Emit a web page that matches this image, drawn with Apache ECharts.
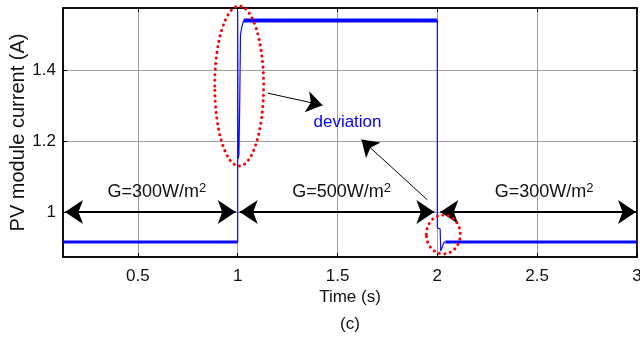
<!DOCTYPE html>
<html><head><meta charset="utf-8">
<script src="https://cdn.jsdelivr.net/npm/echarts@6/dist/echarts.min.js"></script>
<style>html,body{margin:0;padding:0;background:#fff}#c{width:640px;height:343px}</style>
</head><body><div id="c"></div>
<script>
// ---- data ----
var xTicks = [0.5, 1, 1.5, 2, 2.5, 3];
var yTicks = [1, 1.2, 1.4];
var xRange = [0.125, 3];
var yRange = [0.873, 1.575];
// steady-state segments (time s, current A)
var t300a = [0.125, 1.0];
var i300a = [0.915, 0.915];
var t500 = [1.03, 2.0];
var i500 = [1.54, 1.54];
var t300b = [2.04, 3.0];
var i300b = [0.915, 0.915];
// transients
var tStepUp = [1.0, 1.0, 1.002, 1.006, 1.010, 1.014, 1.020, 1.030];
var iStepUp = [0.915, 1.565, 1.15, 1.16, 1.30, 1.50, 1.52, 1.54];
var tStepDown = [2.0, 2.0, 2.014, 2.017, 2.022, 2.027, 2.034, 2.04];
var iStepDown = [1.54, 0.955, 0.952, 0.89, 0.888, 0.905, 0.915, 0.915];
// annotation texts
var regionLabels = ['G=300W/m', 'G=500W/m', 'G=300W/m'];
var regionLabelX = [0.595, 1.52, 2.535];
var regionSpans = [[0.135, 0.99], [1.01, 1.985], [2.015, 2.995]];

function zip(a, b) { return a.map(function (v, k) { return [v, b[k]]; }); }

var FONT = "'Liberation Sans',Arial,sans-serif";
var chart = echarts.init(document.getElementById('c'), null, {renderer: 'canvas'});

function axisCommon(ticks, showLabel) {
  return {
    axisLine: {show: true, onZero: false, lineStyle: {color: '#000', width: 1.5}},
    axisTick: {show: true, inside: true, length: 4, customValues: ticks, lineStyle: {color: '#000'}},
    axisLabel: {show: showLabel, customValues: ticks, color: '#111', fontSize: 17, fontFamily: FONT},
    splitLine: {show: false}
  };
}

var xMain = Object.assign({type: 'value', min: xRange[0], max: xRange[1], position: 'bottom',
  name: 'Time (s)', nameLocation: 'middle', nameGap: 32, nameMoveOverlap: false,
  nameTextStyle: {fontSize: 17, fontFamily: FONT, color: '#111'}}, axisCommon(xTicks, true));
xMain.axisLabel.margin = 11;
xMain.splitLine = {show: true, lineStyle: {color: '#a0a0a0', width: 1}};
var xTop = Object.assign({type: 'value', min: xRange[0], max: xRange[1], position: 'top'}, axisCommon(xTicks, false));

var yMain = Object.assign({type: 'value', min: yRange[0], max: yRange[1], position: 'left',
  name: 'PV module current (A)', nameLocation: 'middle', nameGap: 35, nameMoveOverlap: false,
  nameTextStyle: {fontSize: 20, fontFamily: FONT, color: '#111'}}, axisCommon(yTicks, true));
yMain.axisLabel.margin = 7;
yMain.splitLine = {show: true, lineStyle: {color: '#a0a0a0', width: 1}};
var yRight = Object.assign({type: 'value', min: yRange[0], max: yRange[1], position: 'right'}, axisCommon(yTicks, false));

function arrowLine(x0, y0, x1, y1, both, width, size) {
  return [
    {coord: [x0, y0], symbol: both ? 'arrow' : 'none', symbolSize: size, lineStyle: {color: '#000', width: width, type: 'solid'}},
    {coord: [x1, y1], symbol: 'arrow', symbolSize: size}
  ];
}

var markData = regionSpans.map(function (s) { return arrowLine(s[0], 1, s[1], 1, true, 2, 18); });
markData.push(arrowLine(1.15, 1.335, 1.425, 1.301, false, 1, 16));
markData.push(arrowLine(1.95, 1.034, 1.62, 1.204, false, 1, 16));

var blue = '#0a0aff';
var option = {
  animation: false,
  backgroundColor: '#fff',
  grid: {left: 63, right: 3, top: 8, bottom: 86, outerBoundsMode: 'none', containLabel: false,
    show: true, borderColor: '#000', borderWidth: 1.5},
  xAxis: [xMain, xTop],
  yAxis: [yMain, yRight],
  series: [
    {type: 'line', data: zip(t300a, i300a), showSymbol: false, lineStyle: {color: blue, width: 3}, silent: true,
      markLine: {silent: true, animation: false, label: {show: false}, symbol: ['none', 'arrow'],
        itemStyle: {color: '#000'}, data: markData}},
    {type: 'line', data: zip(t500, i500), showSymbol: false, lineStyle: {color: blue, width: 4}, silent: true},
    {type: 'line', data: zip(t300b, i300b), showSymbol: false, lineStyle: {color: blue, width: 3}, silent: true},
    {type: 'line', data: zip(tStepUp, iStepUp), showSymbol: false, lineStyle: {color: blue, width: 1.2}, silent: true},
    {type: 'line', data: zip(tStepDown, iStepDown), showSymbol: false, lineStyle: {color: blue, width: 1.2}, silent: true}
  ]
};
chart.setOption(option);

function px(x, y) { return chart.convertToPixel({gridIndex: 0}, [x, y]); }
function ellipse(cx, cy, rx, ry) {
  var c = px(cx, cy), e = px(cx + rx, cy + ry);
  return {type: 'ellipse', silent: true, z: 100,
    shape: {cx: c[0], cy: c[1], rx: Math.abs(e[0] - c[0]), ry: Math.abs(e[1] - c[1])},
    style: {fill: null, stroke: '#ff0000', lineWidth: 3, lineDash: [0.1, 5.5], lineCap: 'round'}};
}
var graphics = [ellipse(1.0075, 1.355, 0.1225, 0.2254), ellipse(2.03, 0.9366, 0.085, 0.055)];
regionLabels.forEach(function (t, k) {
  var p = px(regionLabelX[k], 1.055);
  graphics.push({type: 'text', silent: true, z: 100, x: p[0], y: p[1],
    style: {text: '{a|' + t + '}{s|2}', align: 'center', verticalAlign: 'middle',
      rich: {a: {fontSize: 18, fontFamily: FONT, fill: '#111'},
             s: {fontSize: 13, fontFamily: FONT, fill: '#111', padding: [0, 0, 9, 0]}}}});
});
var dp = px(1.55, 1.253);
graphics.push({type: 'text', silent: true, z: 100, x: dp[0], y: dp[1],
  style: {text: 'deviation', align: 'center', verticalAlign: 'middle', fontSize: 17, fontFamily: FONT, fill: '#0000ff'}});
var cp = px((xRange[0] + xRange[1]) / 2, yRange[0]);
graphics.push({type: 'text', silent: true, z: 100, x: cp[0], y: cp[1] + 67,
  style: {text: '(c)', align: 'center', verticalAlign: 'middle', fontSize: 17, fontFamily: FONT, fill: '#111'}});
chart.setOption({graphic: graphics});
</script></body></html>
